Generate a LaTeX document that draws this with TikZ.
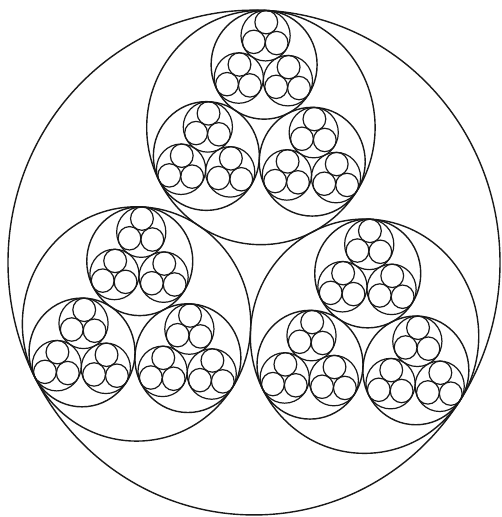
\documentclass[tikz,border=0pt]{standalone}
\usetikzlibrary{calc}

\begin{document}
\begin{tikzpicture}[
    x=1pt, y=1.026pt,
    rope/.style={draw=black!90, line width=1.4pt},
    wire/.style={draw=black!90, line width=1.2pt}
]
    \useasboundingbox (0,0) rectangle (501,503.9);

    % ================= CABLE =================
    \coordinate (cable) at (254,248);
    \draw[rope] (cable) circle (246);

    % ================= STRANDS, BUNDLES AND WIRES =================
    \foreach \a in {87,207,327} {
        \coordinate (strand) at ($(cable)+(\a:131.8)$);
        \draw[rope] (strand) circle (114.2);
        \foreach \b in {87,207,327} {
            \coordinate (bundle) at ($(strand)+(\b:61.2)$);
            \draw[rope] (bundle) circle (53);
            \foreach \c in {87,207,327} {
                \coordinate (yarn) at ($(bundle)+(\c:28.4)$);
                \draw[wire] (yarn) circle (24.6);
                % three wires in each yarn
                \foreach \d in {87,207,327}
                    \draw[wire] ($(yarn)+(\d:13.2)$) circle (11.4);
            }
        }
    }

\end{tikzpicture}
\end{document}
